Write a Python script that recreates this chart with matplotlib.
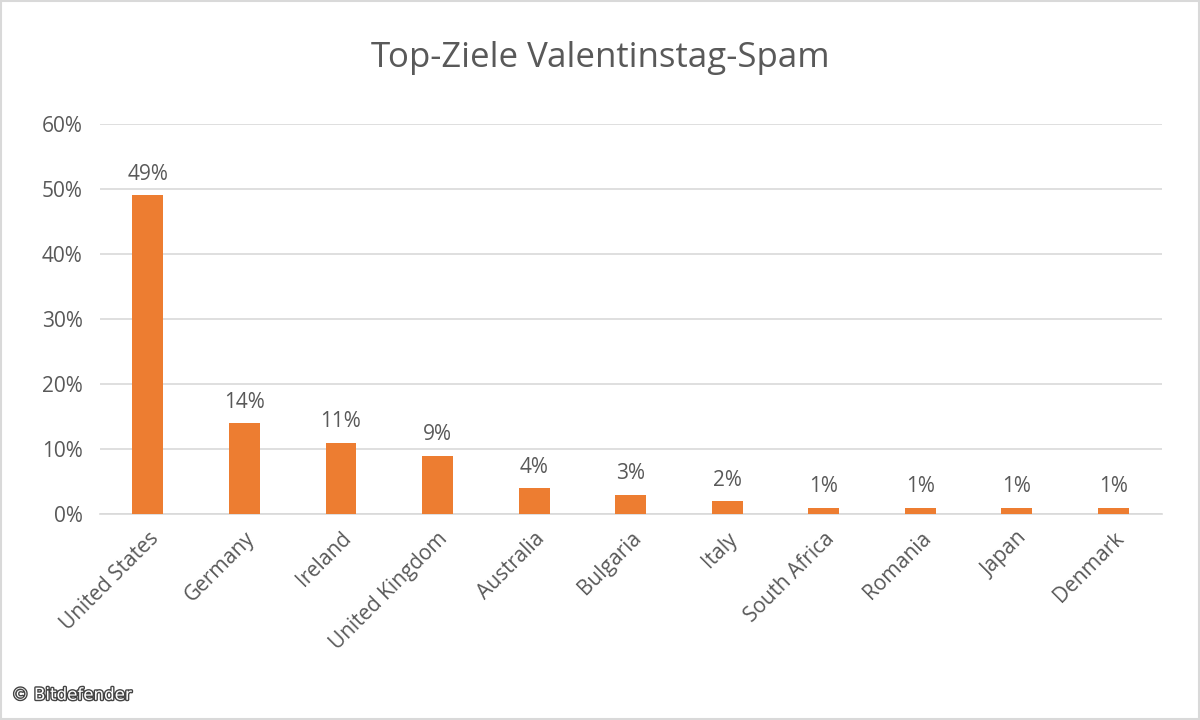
import matplotlib
matplotlib.use("Agg")
import matplotlib.pyplot as plt
import matplotlib.patheffects as pe

plt.rcParams["font.family"] = "Open Sans"

countries = ["United States", "Germany", "Ireland", "United Kingdom", "Australia",
             "Bulgaria", "Italy", "South Africa", "Romania", "Japan", "Denmark"]
shares = [49, 14, 11, 9, 4, 3, 2, 1, 1, 1, 1]
yticks = [0, 10, 20, 30, 40, 50, 60]

grey = "#595959"
fig = plt.figure(figsize=(12, 7.2), dpi=100)
ax = fig.add_axes([0.083, 0.286, 0.885, 0.542])

x = range(len(countries))
ax.bar(x, shares, width=0.32, color="#ED7D31", zorder=3)
for i, v in zip(x, shares):
    ax.text(i, v + 3.2, f"{v}%", ha="center", va="center", fontsize=15, color=grey)

ax.set_ylim(0, 60)
ax.set_xlim(-0.5, len(countries) - 0.5)
ax.set_yticks(yticks)
ax.set_yticklabels([f"{t}%" for t in yticks], fontsize=15, color=grey)
ax.set_xticks(list(x))
ax.set_xticklabels(countries, rotation=45, ha="right", rotation_mode="anchor",
                   fontsize=15, color=grey)
ax.tick_params(axis="x", length=0, pad=10)
ax.tick_params(axis="y", length=0, pad=12)
ax.grid(axis="y", color="#D9D9D9", linewidth=1.2, zorder=0)
for s in ["top", "right", "left"]:
    ax.spines[s].set_visible(False)
ax.spines["bottom"].set_color("#D9D9D9")
ax.spines["bottom"].set_linewidth(1.2)

fig.text(0.5, 0.92, "Top-Ziele Valentinstag-Spam", ha="center", va="center",
         fontsize=25, color=grey)
fig.text(0.01, 0.035, "© Bitdefender", ha="left", va="center", fontsize=12,
         family="DejaVu Sans", color="white",
         path_effects=[pe.withStroke(linewidth=2, foreground="#444444")])
fig.patches.append(plt.Rectangle((0.001, 0.001), 0.998, 0.998, transform=fig.transFigure,
                                 fill=False, edgecolor="#D9D9D9", linewidth=1.5))
fig.savefig("out.png")
